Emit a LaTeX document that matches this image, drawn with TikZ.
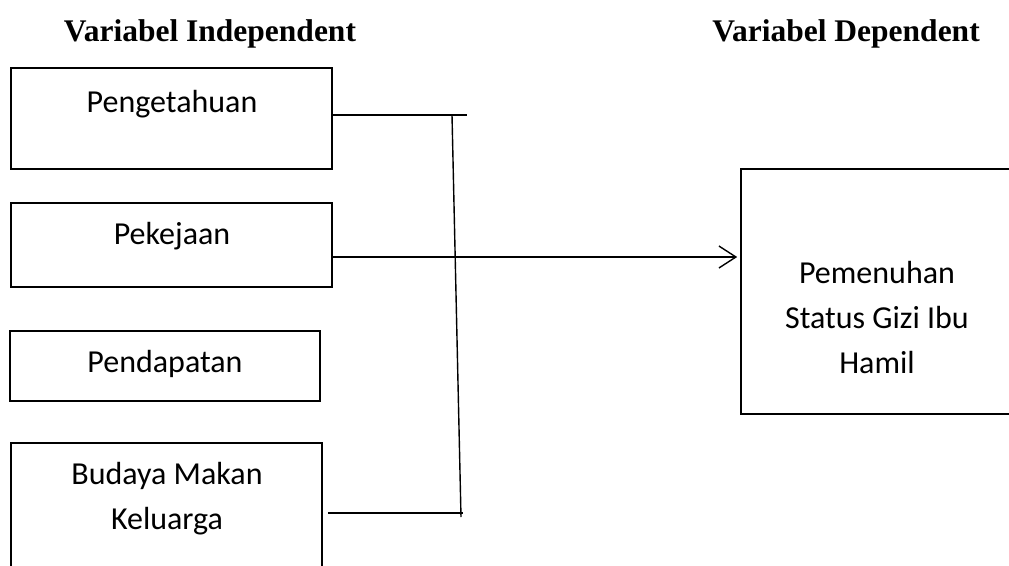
\documentclass[tikz,border=0pt]{standalone}
\usepackage{fontspec}
\setmainfont{Carlito}
\newfontfamily\judulfont{Liberation Serif}
\usetikzlibrary{arrows.meta,positioning}

\begin{document}
\begin{tikzpicture}[
				x = 1pt, y = -1pt, % pixel grid, y runs downwards
				> = {Straight Barb[length=17pt, width=22pt]}, % open arrow head
				line width = 1.4pt % line style
			]
			
			\tikzstyle{varbox}=[
			draw = black,
			line width = 1.6pt,
			rectangle,
			inner sep = 0pt
			]
			\tikzstyle{isi}=[font = \fontsize{32}{45}\selectfont, anchor = base, align = center]
			\tikzstyle{judul}=[font = \judulfont\bfseries\fontsize{31.5}{36}\selectfont, anchor = base]
			
			\clip (0,0) rectangle (1009,565);
			
			\node[judul] (indep) at (210,41) {Variabel Independent};
			\node[judul] (dep) at (846,41) {Variabel Dependent};
			
			\node[varbox, minimum width = 321pt, minimum height = 101pt] (peng) at (171.5,118.5) {};
			\node[varbox, minimum width = 321pt, minimum height = 84pt] (pek) at (171.5,245) {};
			\node[varbox, minimum width = 310pt, minimum height = 70pt] (pend) at (165,366) {};
			\node[varbox, minimum width = 311pt, minimum height = 157pt] (bud) at (166.5,521.5) {};
			\node[varbox, minimum width = 299pt, minimum height = 245pt] (gizi) at (890.5,291.5) {};
			
			% base of a multi-line text is its last line
			\node[isi] (pengT) at (172,112) {Pengetahuan};
			\node[isi] (pekT) at (172,244) {Pekejaan};
			\node[isi] (pendT) at (165,372) {Pendapatan};
			\node[isi] (budT) at (167,529) {Budaya Makan\\Keluarga};
			\node[isi] (giziT) at (877,373) {Pemenuhan\\Status Gizi Ibu\\Hamil};
			
			\coordinate (atas) at (452,115);
			\coordinate (bawah) at (461,517);
			\coordinate (ujungA) at (467,115);
			\coordinate (ujungB) at (468,257);
			\coordinate (ujungD) at (463,513);
			\coordinate (panah) at (463,257);
			
			\draw (peng.east |- ujungA) -- (ujungA);
			\draw (pek.east |- ujungB) -- (ujungB);
			\draw[shorten <= 5pt] (bud.east |- ujungD) -- (ujungD);
			\draw (atas) -- (bawah);
			\draw[->, shorten > = 3pt] (panah) -- (panah -| gizi.west);
		\end{tikzpicture}
\end{document}
